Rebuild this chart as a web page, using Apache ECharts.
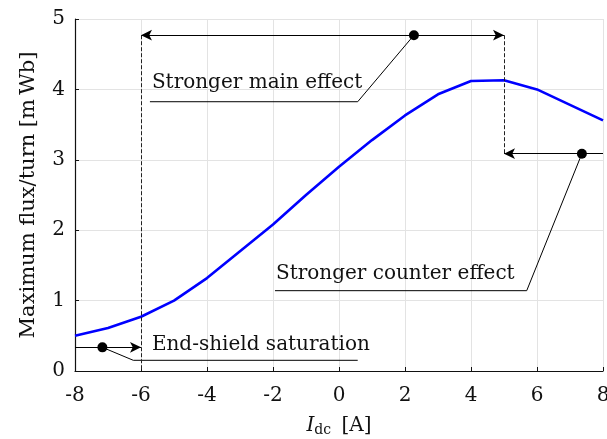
<!DOCTYPE html>
<html>
<head>
<meta charset="utf-8">
<script src="https://cdn.jsdelivr.net/npm/echarts@6/dist/echarts.min.js"></script>
<style>
html,body{margin:0;padding:0;background:#fff;overflow:hidden;}
#c{width:607px;height:439px;}
</style>
</head>
<body>
<div id="c"></div>
<script>
// Data
var currents = [-8, -7, -6, -5, -4, -3, -2, -1, 0, 1, 2, 3, 4, 5, 6, 7, 8];
var maxFlux = [0.50, 0.61, 0.77, 1.00, 1.32, 1.70, 2.08, 2.50, 2.90, 3.28, 3.63, 3.93, 4.12, 4.13, 4.00, 3.78, 3.56];

// Annotations (data coordinates)
var mainArrow = [[5, 4.77], [-6, 4.77]];
var mainDash = [[-6, 4.77], [-6, 0]];
var mainLeader = [[2.27, 4.77], [0.567, 3.825], [-5.73, 3.825]];
var mainText = { pos: [-5.67, 4.09], text: 'Stronger main effect' };

var counterArrow = [[8, 3.087], [5, 3.087]];
var counterDash = [[5, 4.77], [5, 3.087]];
var counterLeader = [[7.36, 3.087], [5.688, 1.141], [-1.94, 1.141]];
var counterText = { pos: [-1.91, 1.378], text: 'Stronger counter effect' };

var shieldArrow = [[-8, 0.336], [-6, 0.336]];
var shieldLeader = [[-7.17, 0.336], [-6.233, 0.152], [0.567, 0.152]];
var shieldText = { pos: [-5.67, 0.369], text: 'End-shield saturation' };

var dots = [mainLeader[0], counterLeader[0], shieldLeader[0]];

var FONT = 'DejaVu Serif';
var INK = '#111';

function pairs(arr) { return currents.map(function (x, i) { return [x, arr[i]]; }); }

var chart = echarts.init(document.getElementById('c'), null, { renderer: 'canvas' });
chart.setOption({
  animation: false,
  backgroundColor: '#fff',
  grid: { left: 75, right: 4, top: 19, bottom: 68, containLabel: false, outerBoundsMode: 'none' },
  xAxis: {
    type: 'value', min: -8, max: 8, interval: 2,
    name: '{i|I}{s|dc} [A]',
    nameLocation: 'middle', nameGap: 44,
    nameTextStyle: {
      fontFamily: FONT, fontSize: 20, color: INK,
      rich: {
        i: { fontFamily: FONT, fontSize: 20, fontStyle: 'italic', color: INK },
        s: { fontFamily: FONT, fontSize: 14, color: INK, padding: [8, 4, 0, 0] }
      }
    },
    axisLine: { show: true, onZero: false, lineStyle: { color: INK, width: 1.2 } },
    axisTick: { show: true, inside: true, length: 4, lineStyle: { color: INK } },
    axisLabel: { fontFamily: FONT, fontSize: 20, color: INK, margin: 15 },
    splitLine: { show: true, lineStyle: { color: '#e3e3e3', width: 1 } }
  },
  yAxis: {
    type: 'value', min: 0, max: 5, interval: 1,
    name: 'Maximum flux/turn [m\u2009Wb]',
    nameLocation: 'middle', nameGap: 36,
    nameTextStyle: { fontFamily: FONT, fontSize: 21, color: INK },
    axisLine: { show: true, onZero: false, lineStyle: { color: INK, width: 1.2 } },
    axisTick: { show: true, inside: true, length: 4, lineStyle: { color: INK } },
    axisLabel: { fontFamily: FONT, fontSize: 20, color: INK, margin: 10 },
    splitLine: { show: true, lineStyle: { color: '#e3e3e3', width: 1 } }
  },
  series: [
    {
      type: 'line', data: pairs(maxFlux), showSymbol: false, symbol: 'none',
      lineStyle: { color: '#0000ff', width: 2.6 }, z: 3, silent: true,
      markLine: {
        silent: true, animation: false,
        label: { show: false },
        emphasis: { disabled: true },
        data: [
          { coords: mainArrow, lineStyle: { type: 'solid', color: '#000', width: 1 }, symbol: ['arrow', 'arrow'] },
          { coords: counterArrow, lineStyle: { type: 'solid', color: '#000', width: 1 }, symbol: ['none', 'arrow'] },
          { coords: shieldArrow, lineStyle: { type: 'solid', color: '#000', width: 1 }, symbol: ['none', 'arrow'] },
          { coords: mainDash, lineStyle: { type: [4, 2], color: '#222', width: 1 }, symbol: ['none', 'none'] },
          { coords: counterDash, lineStyle: { type: [4, 2], color: '#222', width: 1 }, symbol: ['none', 'none'] }
        ].map(function (d) {
          return [
            { coord: d.coords[0], symbol: d.symbol[0], lineStyle: d.lineStyle },
            { coord: d.coords[1], symbol: d.symbol[1] }
          ];
        }),
        symbolSize: [8, 11]
      }
    },
    { type: 'line', data: mainLeader, symbol: 'none', lineStyle: { color: '#000', width: 1 }, silent: true, z: 4 },
    { type: 'line', data: counterLeader, symbol: 'none', lineStyle: { color: '#000', width: 1 }, silent: true, z: 4 },
    { type: 'line', data: shieldLeader, symbol: 'none', lineStyle: { color: '#000', width: 1 }, silent: true, z: 4 },
    {
      type: 'scatter', data: dots, symbol: 'circle', symbolSize: 10,
      itemStyle: { color: '#000', opacity: 1 }, silent: true, z: 5
    },
    {
      type: 'scatter', symbolSize: 0, silent: true, z: 6,
      itemStyle: { opacity: 1 },
      data: [mainText, counterText, shieldText].map(function (t) {
        return { value: t.pos, name: t.text };
      }),
      label: {
        show: true, position: 'right', distance: 0,
        formatter: function (p) { return p.name; },
        fontFamily: FONT, fontSize: 20, color: INK
      }
    }
  ]
});
</script>
</body>
</html>
